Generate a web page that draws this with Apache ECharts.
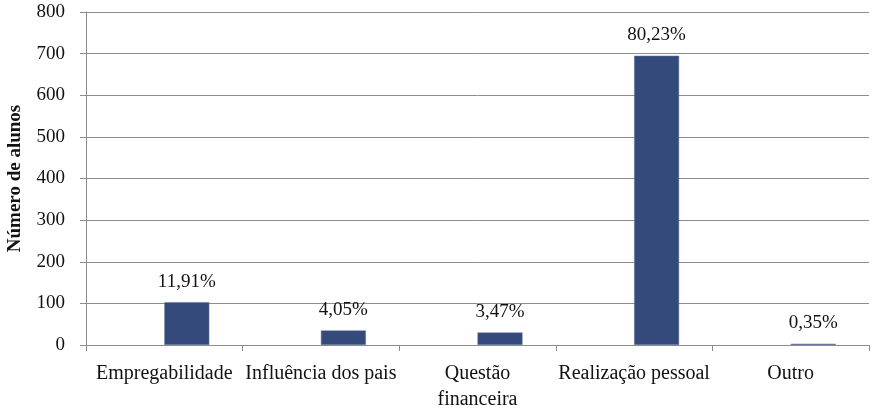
<!DOCTYPE html>
<html>
<head>
<meta charset="utf-8">
<script src="https://cdn.jsdelivr.net/npm/echarts@6/dist/echarts.min.js"></script>
<style>html,body{margin:0;padding:0;background:#fff}#c{width:877px;height:414px}</style>
</head>
<body>
<div id="c"></div>
<script>
const categories = ['Empregabilidade', 'Influência dos pais', 'Questão\nfinanceira', 'Realização pessoal', 'Outro'];
const values = [103, 35, 30, 695, 3];
const percentLabels = ['11,91%', '4,05%', '3,47%', '80,23%', '0,35%'];
const emptySeries = [null, null, null, null, null];
const yTicks = [0, 100, 200, 300, 400, 500, 600, 700, 800];

const font = 'Liberation Serif';
const chart = echarts.init(document.getElementById('c'));
chart.setOption({
  animation: false,
  grid: { left: 86, right: 8, top: 12, bottom: 69, containLabel: false, outerBoundsMode: 'none' },
  xAxis: {
    type: 'category',
    data: categories,
    axisLine: { lineStyle: { color: '#8c8c8c', width: 1 } },
    axisTick: { show: true, length: 6, lineStyle: { color: '#8c8c8c' } },
    axisLabel: { color: '#111', fontFamily: font, fontSize: 20, margin: 16, lineHeight: 26, interval: 0 }
  },
  yAxis: {
    type: 'value',
    min: yTicks[0],
    max: yTicks[yTicks.length - 1],
    interval: 100,
    name: 'Número de alunos',
    nameLocation: 'middle',
    nameGap: 61,
    nameTextStyle: { color: '#111', fontFamily: font, fontSize: 19, fontWeight: 'bold' },
    axisLine: { show: true, lineStyle: { color: '#8c8c8c', width: 1 } },
    axisTick: { show: true, length: 6, lineStyle: { color: '#8c8c8c' } },
    splitLine: { lineStyle: { color: '#8c8c8c', width: 1 } },
    axisLabel: { color: '#111', fontFamily: font, fontSize: 19, margin: 21 }
  },
  series: [{
    type: 'bar',
    data: emptySeries,
    barWidth: 45,
    barGap: '0%',
    silent: true
  }, {
    type: 'bar',
    data: values,
    barWidth: 45,
    barGap: '0%',
    itemStyle: { color: '#344a7b', borderColor: '#6a7aa0', borderWidth: 0.5 },
    label: {
      show: true,
      position: 'top',
      distance: 11,
      color: '#111',
      fontFamily: font,
      fontSize: 19,
      formatter: p => percentLabels[p.dataIndex]
    }
  }]
});
</script>
</body>
</html>
